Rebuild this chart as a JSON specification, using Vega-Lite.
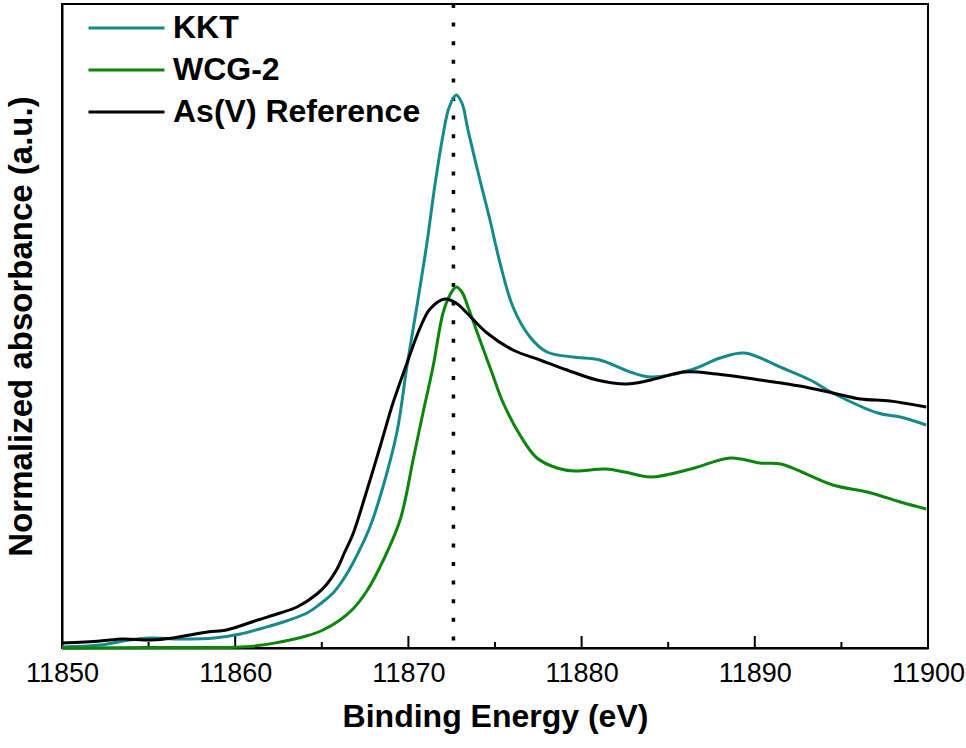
{
  "$schema": "https://vega.github.io/schema/vega-lite/v6.json",
  "width": 866,
  "height": 644,
  "autosize": "none",
  "padding": {"left": 62, "top": 4, "right": 38, "bottom": 100},
  "background": "white",
  "config": {
    "font": "Liberation Sans",
    "view": {"stroke": "black", "strokeWidth": 2}
  },
  "datasets": {
    "curves": [
      {"e": 11850.0, "a": 0.0025, "s": "KKT"},
      {"e": 11852.2, "a": 0.0075, "s": "KKT"},
      {"e": 11853.9, "a": 0.02, "s": "KKT"},
      {"e": 11855.1, "a": 0.025, "s": "KKT"},
      {"e": 11856.8, "a": 0.0225, "s": "KKT"},
      {"e": 11858.8, "a": 0.025, "s": "KKT"},
      {"e": 11860.3, "a": 0.035, "s": "KKT"},
      {"e": 11861.6, "a": 0.05, "s": "KKT"},
      {"e": 11862.6, "a": 0.0625, "s": "KKT"},
      {"e": 11864.15, "a": 0.0875, "s": "KKT"},
      {"e": 11864.9, "a": 0.11, "s": "KKT"},
      {"e": 11865.65, "a": 0.1375, "s": "KKT"},
      {"e": 11866.22, "a": 0.17, "s": "KKT"},
      {"e": 11866.8, "a": 0.2125, "s": "KKT"},
      {"e": 11867.78, "a": 0.3025, "s": "KKT"},
      {"e": 11868.53, "a": 0.4025, "s": "KKT"},
      {"e": 11869.34, "a": 0.54, "s": "KKT"},
      {"e": 11869.92, "a": 0.705, "s": "KKT"},
      {"e": 11870.55, "a": 0.87, "s": "KKT"},
      {"e": 11871.07, "a": 1.0125, "s": "KKT"},
      {"e": 11871.54, "a": 1.16, "s": "KKT"},
      {"e": 11872.0, "a": 1.2825, "s": "KKT"},
      {"e": 11872.34, "a": 1.35, "s": "KKT"},
      {"e": 11872.75, "a": 1.3825, "s": "KKT"},
      {"e": 11873.09, "a": 1.3625, "s": "KKT"},
      {"e": 11873.44, "a": 1.295, "s": "KKT"},
      {"e": 11874.13, "a": 1.17, "s": "KKT"},
      {"e": 11874.71, "a": 1.07, "s": "KKT"},
      {"e": 11875.29, "a": 0.9625, "s": "KKT"},
      {"e": 11876.04, "a": 0.8525, "s": "KKT"},
      {"e": 11877.02, "a": 0.7775, "s": "KKT"},
      {"e": 11878.0, "a": 0.74, "s": "KKT"},
      {"e": 11879.5, "a": 0.7275, "s": "KKT"},
      {"e": 11881.06, "a": 0.72, "s": "KKT"},
      {"e": 11882.8, "a": 0.69, "s": "KKT"},
      {"e": 11884.0, "a": 0.6775, "s": "KKT"},
      {"e": 11886.3, "a": 0.695, "s": "KKT"},
      {"e": 11888.0, "a": 0.725, "s": "KKT"},
      {"e": 11889.4, "a": 0.7375, "s": "KKT"},
      {"e": 11891.6, "a": 0.70, "s": "KKT"},
      {"e": 11893.2, "a": 0.67, "s": "KKT"},
      {"e": 11894.5, "a": 0.6375, "s": "KKT"},
      {"e": 11897.1, "a": 0.5875, "s": "KKT"},
      {"e": 11898.4, "a": 0.5775, "s": "KKT"},
      {"e": 11899.9, "a": 0.5575, "s": "KKT"},

      {"e": 11850.0, "a": 0.0, "s": "WCG-2"},
      {"e": 11855.1, "a": 0.001, "s": "WCG-2"},
      {"e": 11860.9, "a": 0.004, "s": "WCG-2"},
      {"e": 11862.6, "a": 0.015, "s": "WCG-2"},
      {"e": 11864.1, "a": 0.03, "s": "WCG-2"},
      {"e": 11865.07, "a": 0.045, "s": "WCG-2"},
      {"e": 11866.05, "a": 0.07, "s": "WCG-2"},
      {"e": 11866.8, "a": 0.0975, "s": "WCG-2"},
      {"e": 11867.6, "a": 0.1425, "s": "WCG-2"},
      {"e": 11868.36, "a": 0.2025, "s": "WCG-2"},
      {"e": 11869.52, "a": 0.32, "s": "WCG-2"},
      {"e": 11870.27, "a": 0.47, "s": "WCG-2"},
      {"e": 11870.84, "a": 0.5875, "s": "WCG-2"},
      {"e": 11871.42, "a": 0.7025, "s": "WCG-2"},
      {"e": 11872.0, "a": 0.8375, "s": "WCG-2"},
      {"e": 11872.4, "a": 0.8825, "s": "WCG-2"},
      {"e": 11872.75, "a": 0.9025, "s": "WCG-2"},
      {"e": 11873.09, "a": 0.89, "s": "WCG-2"},
      {"e": 11873.44, "a": 0.8525, "s": "WCG-2"},
      {"e": 11874.13, "a": 0.77, "s": "WCG-2"},
      {"e": 11874.83, "a": 0.6875, "s": "WCG-2"},
      {"e": 11875.4, "a": 0.62, "s": "WCG-2"},
      {"e": 11876.44, "a": 0.5325, "s": "WCG-2"},
      {"e": 11877.42, "a": 0.475, "s": "WCG-2"},
      {"e": 11878.58, "a": 0.45, "s": "WCG-2"},
      {"e": 11879.6, "a": 0.4425, "s": "WCG-2"},
      {"e": 11881.4, "a": 0.4475, "s": "WCG-2"},
      {"e": 11882.5, "a": 0.44, "s": "WCG-2"},
      {"e": 11884.0, "a": 0.4275, "s": "WCG-2"},
      {"e": 11886.3, "a": 0.4475, "s": "WCG-2"},
      {"e": 11888.6, "a": 0.475, "s": "WCG-2"},
      {"e": 11890.3, "a": 0.4625, "s": "WCG-2"},
      {"e": 11891.5, "a": 0.46, "s": "WCG-2"},
      {"e": 11894.5, "a": 0.4075, "s": "WCG-2"},
      {"e": 11896.5, "a": 0.39, "s": "WCG-2"},
      {"e": 11898.4, "a": 0.365, "s": "WCG-2"},
      {"e": 11899.9, "a": 0.3475, "s": "WCG-2"},

      {"e": 11850.0, "a": 0.0125, "s": "As(V) Reference"},
      {"e": 11852.2, "a": 0.0175, "s": "As(V) Reference"},
      {"e": 11853.5, "a": 0.0225, "s": "As(V) Reference"},
      {"e": 11855.1, "a": 0.02, "s": "As(V) Reference"},
      {"e": 11856.4, "a": 0.025, "s": "As(V) Reference"},
      {"e": 11858.4, "a": 0.04, "s": "As(V) Reference"},
      {"e": 11859.5, "a": 0.045, "s": "As(V) Reference"},
      {"e": 11861.3, "a": 0.07, "s": "As(V) Reference"},
      {"e": 11862.59, "a": 0.0875, "s": "As(V) Reference"},
      {"e": 11863.57, "a": 0.1025, "s": "As(V) Reference"},
      {"e": 11864.72, "a": 0.135, "s": "As(V) Reference"},
      {"e": 11865.3, "a": 0.16, "s": "As(V) Reference"},
      {"e": 11865.88, "a": 0.1975, "s": "As(V) Reference"},
      {"e": 11866.3, "a": 0.2375, "s": "As(V) Reference"},
      {"e": 11866.8, "a": 0.285, "s": "As(V) Reference"},
      {"e": 11867.61, "a": 0.395, "s": "As(V) Reference"},
      {"e": 11868.36, "a": 0.5025, "s": "As(V) Reference"},
      {"e": 11869.11, "a": 0.6125, "s": "As(V) Reference"},
      {"e": 11869.92, "a": 0.7125, "s": "As(V) Reference"},
      {"e": 11870.67, "a": 0.8, "s": "As(V) Reference"},
      {"e": 11871.25, "a": 0.8475, "s": "As(V) Reference"},
      {"e": 11872.11, "a": 0.8725, "s": "As(V) Reference"},
      {"e": 11872.75, "a": 0.8625, "s": "As(V) Reference"},
      {"e": 11873.38, "a": 0.8375, "s": "As(V) Reference"},
      {"e": 11874.54, "a": 0.7875, "s": "As(V) Reference"},
      {"e": 11876.04, "a": 0.745, "s": "As(V) Reference"},
      {"e": 11877.6, "a": 0.72, "s": "As(V) Reference"},
      {"e": 11879.16, "a": 0.695, "s": "As(V) Reference"},
      {"e": 11880.89, "a": 0.67, "s": "As(V) Reference"},
      {"e": 11882.6, "a": 0.66, "s": "As(V) Reference"},
      {"e": 11884.0, "a": 0.67, "s": "As(V) Reference"},
      {"e": 11885.9, "a": 0.69, "s": "As(V) Reference"},
      {"e": 11887.8, "a": 0.685, "s": "As(V) Reference"},
      {"e": 11890.3, "a": 0.67, "s": "As(V) Reference"},
      {"e": 11892.6, "a": 0.655, "s": "As(V) Reference"},
      {"e": 11894.5, "a": 0.6375, "s": "As(V) Reference"},
      {"e": 11896.1, "a": 0.6225, "s": "As(V) Reference"},
      {"e": 11897.8, "a": 0.6175, "s": "As(V) Reference"},
      {"e": 11899.9, "a": 0.6025, "s": "As(V) Reference"}
    ],
    "marker": [{"e": 11872.6}],
    "major": [{"e": 11860}, {"e": 11870}, {"e": 11880}, {"e": 11890}],
    "minor": [{"e": 11855}, {"e": 11865}, {"e": 11875}, {"e": 11885}, {"e": 11895}]
  },
  "layer": [
    {
      "data": {"name": "marker"},
      "mark": {"type": "rule", "color": "black", "strokeWidth": 3.5, "strokeDash": [4, 14.6], "strokeCap": "butt"},
      "encoding": {
        "x": {"field": "e", "type": "quantitative"}
      }
    },
    {
      "data": {"name": "major"},
      "mark": {"type": "rule", "color": "black", "strokeWidth": 2},
      "encoding": {
        "x": {"field": "e", "type": "quantitative"},
        "y": {"datum": 0},
        "y2": {"datum": 0.03}
      }
    },
    {
      "data": {"name": "minor"},
      "mark": {"type": "rule", "color": "black", "strokeWidth": 2},
      "encoding": {
        "x": {"field": "e", "type": "quantitative"},
        "y": {"datum": 0},
        "y2": {"datum": 0.015}
      }
    },
    {
      "data": {"name": "curves"},
      "mark": {"type": "line", "strokeWidth": 3, "interpolate": "catmull-rom"},
      "encoding": {
        "x": {
          "field": "e",
          "type": "quantitative",
          "scale": {"domain": [11850, 11900], "nice": false, "zero": false},
          "axis": {
            "title": "Binding Energy (eV)",
            "titleFont": "Liberation Sans",
            "titleFontSize": 32,
            "titleFontWeight": "bold",
            "titleColor": "black",
            "titlePadding": 15,
            "values": [11850, 11860, 11870, 11880, 11890, 11900],
            "format": "d",
            "labelFontSize": 27,
            "labelColor": "black",
            "labelFont": "Liberation Sans",
            "labelPadding": 12,
            "labelFlush": false,
            "labelOverlap": false,
            "ticks": false,
            "domainColor": "black",
            "domainWidth": 2,
            "grid": false
          }
        },
        "y": {
          "field": "a",
          "type": "quantitative",
          "scale": {"domain": [0, 1.61], "nice": false},
          "axis": {
            "title": "Normalized absorbance (a.u.)",
            "titleFont": "Liberation Sans",
            "titleFontSize": 33,
            "titleFontWeight": "bold",
            "titleColor": "black",
            "titlePadding": 24,
            "labels": false,
            "ticks": false,
            "domainColor": "black",
            "domainWidth": 2,
            "grid": false
          }
        },
        "color": {
          "field": "s",
          "type": "nominal",
          "sort": null,
          "scale": {"domain": ["KKT", "WCG-2", "As(V) Reference"], "range": ["#158a8a", "#0b860b", "#000000"]},
          "legend": {
            "title": null,
            "orient": "none",
            "legendX": 25,
            "legendY": 3,
            "padding": 0,
            "symbolType": "stroke",
            "symbolSize": 5776,
            "symbolStrokeWidth": 3,
            "labelFont": "Liberation Sans",
            "labelFontSize": 32,
            "labelFontWeight": "bold",
            "labelColor": "black",
            "labelOffset": 7,
            "clipHeight": 42,
            "rowPadding": 0,
            "labelLimit": 400
          }
        }
      }
    }
  ]
}
